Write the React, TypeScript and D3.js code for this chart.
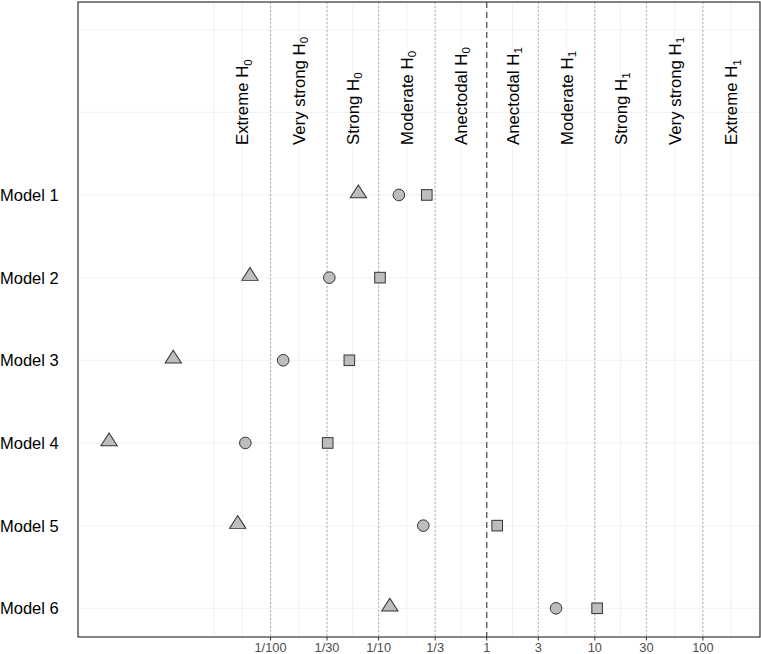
import React, { useEffect } from "react";
import * as d3 from "d3";

const models = ["Model 1", "Model 2", "Model 3", "Model 4", "Model 5", "Model 6"];
const triangleBF = [0.0649, 0.00646, 0.00126, 0.000321, 0.00497, 0.127];
const circleBF = [0.154, 0.035, 0.0131, 0.00585, 0.259, 4.38];
const squareBF = [0.279, 0.103, 0.0536, 0.0338, 1.25, 10.5];

const breaks = [1 / 100, 1 / 30, 1 / 10, 1 / 3, 1, 3, 10, 30, 100];
const breakLabels = ["1/100", "1/30", "1/10", "1/3", "1", "3", "10", "30", "100"];
const evidenceNames = [
  "Extreme", "Very strong", "Strong", "Moderate", "Anectodal",
  "Anectodal", "Moderate", "Strong", "Very strong", "Extreme",
];
const evidenceSub = ["0", "0", "0", "0", "0", "1", "1", "1", "1", "1"];
const xLimits = [0.0001656, 337.3];

const W = 761;
const H = 654;
const panel = { left: 78, right: 760, top: 2, bottom: 637 };
const FONT = "'Liberation Sans', Arial, Helvetica, sans-serif";

export default function App() {
  useEffect(() => {
    document.body.style.margin = "0";
  }, []);

  const x = d3.scaleLog().domain(xLimits).range([panel.left, panel.right]);
  const yLevels = ["top0", "top1", ...models];
  const y = d3.scalePoint<string>().domain(yLevels).range([29.6, 608.3]);

  // ggplot-style minor breaks in log space
  const lb = breaks.map((b) => Math.log10(b));
  const bd = lb[1] - lb[0];
  const ext = [lb[0] - bd, ...lb, lb[lb.length - 1] + bd];
  const mids: number[] = [];
  for (let i = 0; i < ext.length - 1; i++) mids.push((ext[i] + ext[i + 1]) / 2);
  const gridLogs = [...ext, ...mids].filter(
    (v) => x(Math.pow(10, v)) > panel.left && x(Math.pow(10, v)) <= panel.right
  );

  const fill = "#bdbdbd";
  const stroke = "#333";

  return (
    <svg width={W} height={H} style={{ display: "block", fontFamily: FONT }}>
      <rect x={0} y={0} width={W} height={H} fill="#fff" />
      {gridLogs.map((v, i) => (
        <line
          key={"g" + i}
          x1={x(Math.pow(10, v))}
          x2={x(Math.pow(10, v))}
          y1={panel.top}
          y2={panel.bottom}
          stroke="#ececec"
          strokeWidth={0.8}
        />
      ))}
      {yLevels.map((l) => (
        <line
          key={"h" + l}
          x1={panel.left}
          x2={panel.right}
          y1={y(l)}
          y2={y(l)}
          stroke="#ececec"
          strokeWidth={0.8}
        />
      ))}
      {breaks.map((b, i) =>
        b === 1 ? (
          <line
            key={"v" + i}
            x1={x(b)}
            x2={x(b)}
            y1={panel.top}
            y2={panel.bottom}
            stroke="#555"
            strokeWidth={1.3}
            strokeDasharray="6,4"
          />
        ) : (
          <line
            key={"v" + i}
            x1={x(b)}
            x2={x(b)}
            y1={panel.top}
            y2={panel.bottom}
            stroke="#aaa"
            strokeWidth={0.9}
            strokeDasharray="2,2"
          />
        )
      )}
      {mids.map((m, i) => {
        const cx = x(Math.pow(10, m));
        const cy = 145;
        return (
          <text
            key={"e" + i}
            transform={`translate(${cx},${cy}) rotate(-90)`}
            dy="0.36em"
            fontSize={16.8}
            fill="#000"
          >
            {evidenceNames[i] + " H"}
            <tspan fontSize={11.5} dy="0.3em">
              {evidenceSub[i]}
            </tspan>
          </text>
        );
      })}
      {models.map((m, i) => {
        const cy = y(m)!;
        const tx = x(triangleBF[i]);
        const cxp = x(circleBF[i]);
        const sx = x(squareBF[i]);
        const tri = d3.symbol().type(d3.symbolTriangle).size(105)();
        return (
          <g key={"m" + i}>
            <path
              d={tri || ""}
              transform={`translate(${tx},${cy - 1.5}) scale(1.05,0.95)`}
              fill={fill}
              stroke={stroke}
              strokeWidth={1}
            />
            <circle cx={cxp} cy={cy} r={5.8} fill={fill} stroke={stroke} strokeWidth={1} />
            <rect
              x={sx - 5.3}
              y={cy - 5.3}
              width={10.6}
              height={10.6}
              fill={fill}
              stroke={stroke}
              strokeWidth={1}
            />
          </g>
        );
      })}
      <rect
        x={panel.left}
        y={panel.top}
        width={panel.right - panel.left}
        height={panel.bottom - panel.top}
        fill="none"
        stroke="#333"
        strokeWidth={1.2}
      />
      {breaks.map((b, i) => (
        <g key={"t" + i}>
          <line x1={x(b)} x2={x(b)} y1={panel.bottom} y2={panel.bottom + 3.5} stroke="#333" strokeWidth={1} />
          <text x={x(b)} y={652} textAnchor="middle" fontSize={12.8} fill="#4d4d4d">
            {breakLabels[i]}
          </text>
        </g>
      ))}
      {models.map((m) => (
        <text key={"y" + m} x={0} y={y(m)} dy="0.36em" fontSize={16.5} fill="#000">
          {m}
        </text>
      ))}
    </svg>
  );
}
